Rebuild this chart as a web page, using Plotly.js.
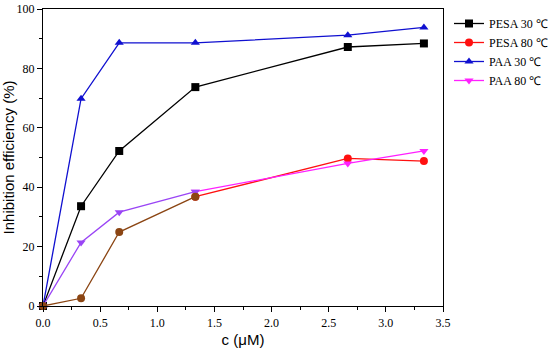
<!DOCTYPE html>
<html>
<head>
<meta charset="utf-8">
<script src="https://cdn.plot.ly/plotly-3.0.1.min.js"></script>
<style>html,body{margin:0;padding:0;background:#fff;}#chart{width:550px;height:355px;}</style>
</head>
<body>
<div id="chart"></div>
<script>
const conc = [0, 0.333, 0.667, 1.333, 2.667, 3.333];
const pesa30 = [0, 33.6, 52.2, 73.7, 87.2, 88.4];
const pesa80 = [0, 2.6, 24.9, 36.8, 49.7, 48.8];
const paa30 = [0, 69.8, 88.6, 88.6, 91.2, 93.8];
const paa80 = [0, 21.4, 31.6, 38.5, 48.0, 52.2];
const names = ["PESA 30 \u2103", "PESA 80 \u2103", "PAA 30 \u2103", "PAA 80 \u2103"];

const serif = "Liberation Serif";
const sans = "Liberation Sans";
function tr(x, y, name, color, symbol, show) {
  return {
    x: x, y: y, name: name, type: "scatter", mode: "lines+markers",
    line: {color: color, width: 1.3},
    marker: {color: color, symbol: symbol, size: 8},
    showlegend: show, cliponaxis: false
  };
}
const split = 3;
const data = [
  tr(conc, pesa30, names[0], "#000000", "square", true),
  tr(conc.slice(split), pesa80.slice(split), names[1], "#ff1010", "circle", true),
  tr(conc, paa30, names[2], "#1010d0", "triangle-up", true),
  tr(conc.slice(split), paa80.slice(split), names[3], "#ff20ff", "triangle-down", true),
  tr(conc.slice(0, split + 1), paa80.slice(0, split + 1), names[3], "#9a45f5", "triangle-down", false),
  tr(conc.slice(0, split + 1), pesa80.slice(0, split + 1), names[1], "#8b4513", "circle", false)
];

const layout = {
  width: 550, height: 355,
  margin: {l: 43, r: 107, t: 9, b: 49, autoexpand: false},
  paper_bgcolor: "#fff", plot_bgcolor: "#fff",
  showlegend: true,
  legend: {
    x: 1.015, y: 1.0, xanchor: "left", yanchor: "top",
    font: {family: serif, size: 12, color: "#000"},
    tracegroupgap: 0, itemwidth: 30, bgcolor: "rgba(0,0,0,0)"
  },
  xaxis: {
    range: [0, 3.5], dtick: 0.5, tick0: 0, tickformat: ".1f",
    showgrid: false, zeroline: false,
    showline: true, mirror: true, linecolor: "#000", linewidth: 1.2,
    ticks: "outside", ticklen: 5, tickwidth: 1, tickcolor: "#000",
    minor: {dtick: 0.25, ticks: "outside", ticklen: 3, tickcolor: "#000", showgrid: false},
    tickfont: {family: serif, size: 12, color: "#000"},
    title: {text: "c (\u03bcM)", font: {family: sans, size: 15, color: "#000"}, standoff: 6}
  },
  yaxis: {
    range: [0, 100], dtick: 20, tick0: 0,
    showgrid: false, zeroline: false,
    showline: true, mirror: true, linecolor: "#000", linewidth: 1.2,
    ticks: "outside", ticklen: 5, tickwidth: 1, tickcolor: "#000",
    minor: {dtick: 10, ticks: "outside", ticklen: 3, tickcolor: "#000", showgrid: false},
    tickfont: {family: serif, size: 12, color: "#000"},
    title: {text: "Inhibition efficiency (%)", font: {family: sans, size: 15, color: "#000"}, standoff: 4}
  }
};
Plotly.newPlot("chart", data, layout, {displayModeBar: false, staticPlot: true});
</script>
</body>
</html>
